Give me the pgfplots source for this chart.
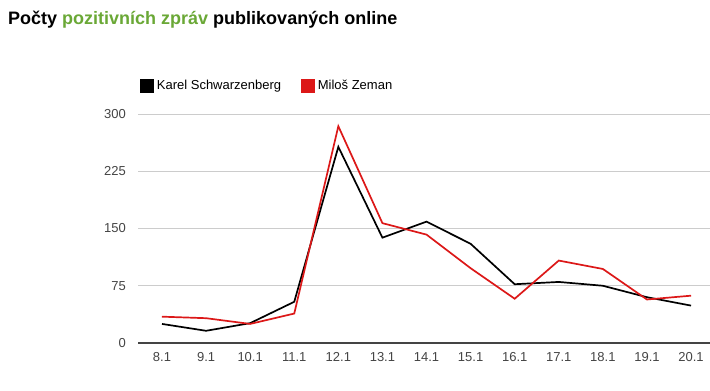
\documentclass[border=0pt]{standalone}
\usepackage{pgfplots}
\pgfplotsset{compat=1.18}
\usepackage{fontspec}
\setmainfont{Liberation Sans}
\definecolor{tgreen}{RGB}{106,168,54}
\definecolor{zred}{RGB}{220,24,24}
\definecolor{gridc}{RGB}{204,204,204}
\definecolor{labc}{RGB}{68,68,68}
\begin{document}
\begin{tikzpicture}
\path[use as bounding box] (0,0) rectangle (710bp,-391bp);
\node[anchor=base west, inner sep=0pt, font=\fontsize{18bp}{20bp}\selectfont\bfseries] at (8bp,-24bp)
  {Počty \textcolor{tgreen}{pozitivních zpráv} publikovaných online};
\begin{axis}[
  at={(138bp,-343bp)}, anchor=south west,
  scale only axis, width=572bp, height=229bp,
  xmin=-0.544, xmax=12.43, ymin=0, ymax=300,
  axis line style={draw=none},
  ytick={75,150,225,300},
  xtick={0,...,12},
  xticklabels={8.1,9.1,10.1,11.1,12.1,13.1,14.1,15.1,16.1,17.1,18.1,19.1,20.1},
  major tick length=0pt,
  ymajorgrids, grid style={gridc, line width=1bp},
  extra y ticks={0}, extra y tick style={grid style={labc, line width=1.3bp}},
  ticklabel style={font=\fontsize{13bp}{15bp}\selectfont, text=labc},
  /pgf/number format/assume math mode=true,
  yticklabel style={anchor=east, inner sep=0pt, xshift=-12bp},
  xticklabel style={anchor=north, inner sep=0pt, yshift=-9bp},
  legend style={at={(0,1)}, anchor=west, yshift=28bp, xshift=2bp, draw=none, fill=none,
    legend columns=2, font=\fontsize{13bp}{15bp}\selectfont, inner sep=0pt,
    /tikz/every odd column/.append style={column sep=1bp},
    /tikz/every even column/.append style={column sep=18bp}},
  legend cell align=left,
  legend image code/.code={\fill[#1] (0bp,-6bp) rectangle (12bp,6bp);},
  clip=false,
]
\addplot[black, line width=1.7bp] coordinates {
(0,25) (1,16) (2,26) (3,54) (4,257) (5,138) (6,159) (7,130) (8,77) (9,80) (10,75) (11,60) (12,49)};
\addlegendentry{Karel Schwarzenberg}
\addplot[zred, line width=1.7bp] coordinates {
(0,34.5) (1,32.5) (2,25) (3,38.6) (4,284) (5,157) (6,142) (7,98) (8,58) (9,108) (10,97) (11,57) (12,62)};
\addlegendentry{Miloš Zeman}
\end{axis}
\end{tikzpicture}
\end{document}
